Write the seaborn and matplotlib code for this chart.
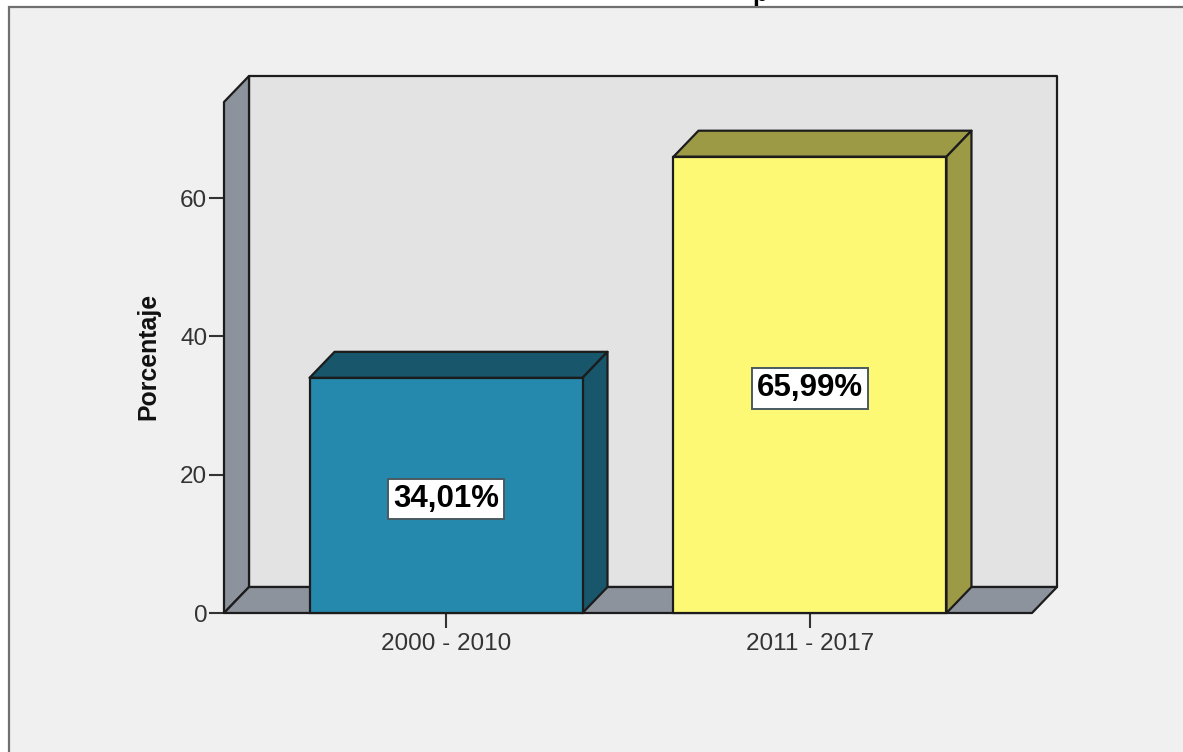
import pandas as pd
import matplotlib
matplotlib.use('Agg')
import matplotlib.pyplot as plt
from matplotlib.patches import Polygon, Rectangle
import seaborn as sns

# datos
periodos = ['2000 - 2010', '2011 - 2017']
porcentajes = [34.01, 65.99]
etiquetas = ['34,01%', '65,99%']
ticks_y = [0, 20, 40, 60]

color_frente = ['#2589ae', '#fdf975']
color_lado = ['#17566b', '#9d9a46']
color_pared = '#8c939c'
color_fondo = '#e3e3e3'
color_panel = '#f0f0f0'
color_linea = '#1c1c1c'

W, H = 1183, 752

sns.set_style('white')
plt.rcParams['font.family'] = ['Liberation Sans', 'DejaVu Sans']

fig = plt.figure(figsize=(W / 100, H / 100), dpi=100, facecolor='white')

# marco exterior del panel (se corta por la derecha y por abajo)
fig.add_artist(Rectangle((9 / W, -0.05), 1.1, 1.05 - 7 / H, transform=fig.transFigure,
                         facecolor=color_panel, edgecolor='#707070', linewidth=1.6, zorder=-1))

# resto del titulo, cortado por el borde superior
fig.text(760 / W, 1 - 0.5 / H, 'p', fontsize=18, fontweight='bold', ha='center',
         va='baseline', color='black')

ax = fig.add_axes([224 / W, 1 - 613 / H, (1032 - 224) / W, (613 - 102) / H])
ax.patch.set_alpha(0)

df = pd.DataFrame({'periodo': periodos, 'porcentaje': porcentajes})
sns.barplot(data=df, x='periodo', y='porcentaje', hue='periodo', palette=color_frente,
            order=periodos, hue_order=periodos, width=0.75, dodge=False, legend=False,
            edgecolor=color_linea, linewidth=1.6, saturation=1, ax=ax, zorder=3)

ax.set_xlim(-0.61, 1.61)
ax.set_ylim(0, 73.9)

# profundidad del efecto 3D en unidades de datos
dx = 25 / 364
dy = 26 / 6.915
x0, x1 = ax.get_xlim()
y0, y1 = ax.get_ylim()

def cara(puntos, color, z):
    ax.add_patch(Polygon(puntos, closed=True, facecolor=color, edgecolor=color_linea,
                         linewidth=1.6, zorder=z, clip_on=False, joinstyle='round'))

barras = [p for p in ax.patches if p.get_height() > 0]

# paredes y suelo
cara([(x0 + dx, y0 + dy), (x1 + dx, y0 + dy), (x1 + dx, y1 + dy), (x0 + dx, y1 + dy)], color_fondo, 1)
cara([(x0, y0), (x0 + dx, y0 + dy), (x0 + dx, y1 + dy), (x0, y1)], color_pared, 1.1)
cara([(x0, y0), (x1, y0), (x1 + dx, y0 + dy), (x0 + dx, y0 + dy)], color_pared, 1.2)

# caras superior y lateral de cada barra, sacadas de las barras de seaborn
for barra, lado, etiqueta in zip(barras, color_lado, etiquetas):
    izq = barra.get_x()
    der = izq + barra.get_width()
    alto = barra.get_height()
    cara([(izq, alto), (der, alto), (der + dx, alto + dy), (izq + dx, alto + dy)], lado, 2)
    cara([(der, y0), (der + dx, y0 + dy), (der + dx, alto + dy), (der, alto)], lado, 2)
    barra.set_clip_on(False)
    ax.text((izq + der) / 2, alto / 2, etiqueta, ha='center', va='center_baseline', fontsize=22.5,
            fontweight='bold', color='black', zorder=5,
            bbox=dict(boxstyle='square,pad=0.17', facecolor='white', edgecolor='#4a5a60', linewidth=1.4))

for lado in ax.spines.values():
    lado.set_visible(False)

ax.set_yticks(ticks_y)
ax.set_xticks(range(len(periodos)))
ax.set_xticklabels(periodos)
ax.tick_params(axis='both', direction='out', length=10.5, width=1.5, color='#333333',
               labelcolor='#333333', labelsize=17.5, left=True, bottom=True)
ax.tick_params(axis='y', pad=1.5)
ax.tick_params(axis='x', pad=4)
ax.set_xlabel('')
ax.set_ylabel('')
fig.text(148 / W, 1 - 356 / H, 'Porcentaje', rotation=90, fontsize=17.9, fontweight='bold',
         ha='center', va='center', color='#111111')

fig.savefig('out.png', dpi=100, facecolor=fig.get_facecolor())
